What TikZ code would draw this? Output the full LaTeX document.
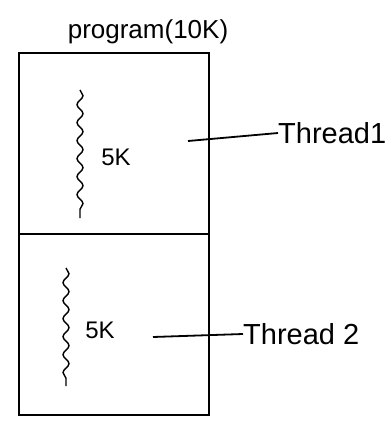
\documentclass[tikz,border=0pt]{standalone}
\usepackage{fontspec}
\setmainfont{Liberation Sans}
\usetikzlibrary{decorations.pathmorphing}

\begin{document}
\begin{tikzpicture}[
        x=1pt, y=-1pt,
        progbox/.style={rectangle, draw, line width=1.8pt, minimum width=190pt, minimum height=362pt, inner sep=0pt},
        label/.style={inner sep=0pt, font=\fontsize{29}{29}\selectfont},
        size/.style={inner sep=0pt, font=\fontsize{24}{24}\selectfont},
        wiggle/.style={line width=1.4pt, decorate, decoration={snake, amplitude=3pt, segment length=18pt}},
        lead/.style={line width=1.8pt}
    ]
        \useasboundingbox (0,0) rectangle (391,421);

% Program box
        \node[inner sep=0pt, font=\fontsize{26}{26}\selectfont] (prog) at (148,32) {program(10K)};
        \node[progbox, anchor=north west] (box) at (18,52) {};
        \draw[line width=1.8pt] (box.west) -- (box.east);

% Thread 1
        \draw[wiggle] (80,90) -- (80,218);
        \node[size] (size1) at (116,157) {5K};
        \coordinate (tip1) at (188,141);
        \node[label, anchor=west] (thr1) at (278,133) {Thread1};
        \draw[lead] (tip1) -- (thr1.west);

% Thread 2
        \draw[wiggle] (66,268) -- (66,386);
        \node[size] (size2) at (100,330) {5K};
        \coordinate (tip2) at (153,337);
        \node[label, anchor=west] (thr2) at (243,334) {Thread 2};
        \draw[lead] (tip2) -- (thr2.west);
    \end{tikzpicture}
\end{document}
